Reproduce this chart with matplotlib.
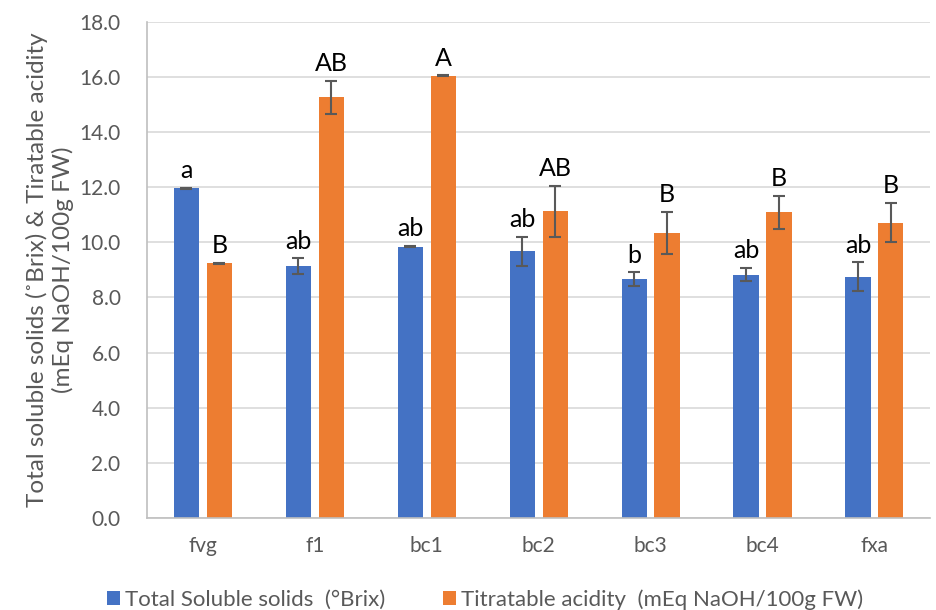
import numpy as np
import matplotlib.pyplot as plt

plt.rcParams['font.family'] = ['Lato', 'DejaVu Sans']

cats = ['fvg', 'f1', 'bc1', 'bc2', 'bc3', 'bc4', 'fxa']
tss = [11.96, 9.14, 9.85, 9.68, 8.66, 8.83, 8.76]
tss_err = [0.02, 0.29, 0.02, 0.52, 0.25, 0.25, 0.52]
tss_lab = ['a', 'ab', 'ab', 'ab', 'b', 'ab', 'ab']
ta = [9.24, 15.26, 16.05, 11.13, 10.35, 11.09, 10.72]
ta_err = [0.02, 0.6, 0.02, 0.93, 0.77, 0.6, 0.72]
ta_lab = ['B', 'AB', 'A', 'AB', 'B', 'B', 'B']

blue = '#4472C4'
orange = '#ED7D31'

fig = plt.figure(figsize=(9.36, 6.10), dpi=100)
ax = fig.add_axes([0.157, 0.151, 0.837, 0.813])

x = np.arange(len(cats))
w = 0.225
off = 0.147
ekw = dict(ecolor='#595959', elinewidth=1.5, capsize=4, capthick=1.5)
b1 = ax.bar(x - off, tss, w, yerr=tss_err, color=blue, error_kw=ekw,
            label='Total Soluble solids  (°Brix)', zorder=2)
b2 = ax.bar(x + off, ta, w, yerr=ta_err, color=orange, error_kw=ekw,
            label='Titratable acidity  (mEq NaOH/100g FW)', zorder=2)

for i in range(len(cats)):
    ax.annotate(tss_lab[i], (x[i] - off, tss[i] + tss_err[i]), xytext=(0, 4),
                textcoords='offset points', ha='center', va='bottom', fontsize=18)
    ax.annotate(ta_lab[i], (x[i] + off, ta[i] + ta_err[i]), xytext=(0, 4),
                textcoords='offset points', ha='center', va='bottom', fontsize=18)

ax.set_ylim(0, 18)
ax.set_xlim(-0.5, len(cats) - 0.5)
ax.set_yticks(np.arange(0, 18.1, 2))
ax.set_yticklabels(['%.1f' % v for v in np.arange(0, 18.1, 2)])
ax.set_xticks(x)
ax.set_xticklabels(cats)
ax.tick_params(axis='both', length=0, labelsize=15, colors='#595959')
ax.tick_params(axis='y', pad=19)
ax.tick_params(axis='x', pad=13)
ax.yaxis.grid(True, color='#D9D9D9', linewidth=1.2, zorder=0)
ax.set_axisbelow(True)
for s in ['top', 'right']:
    ax.spines[s].set_visible(False)
for s in ['left', 'bottom']:
    ax.spines[s].set_color('#BFBFBF')
    ax.spines[s].set_linewidth(1.2)

ax.set_ylabel('Total soluble solids (˚Brix) & Tiratable acidity\n(mEq NaOH/100g FW)',
              fontsize=17.5, color='#595959', labelpad=4)

fig.legend(handles=[b1, b2], loc='lower center', bbox_to_anchor=(0.518, -0.032),
           ncol=2, frameon=False, fontsize=16, handlelength=0.6, handleheight=0.6,
           columnspacing=2.6, handletextpad=0.2, labelcolor='#595959')

fig.savefig('out.png', dpi=100)
